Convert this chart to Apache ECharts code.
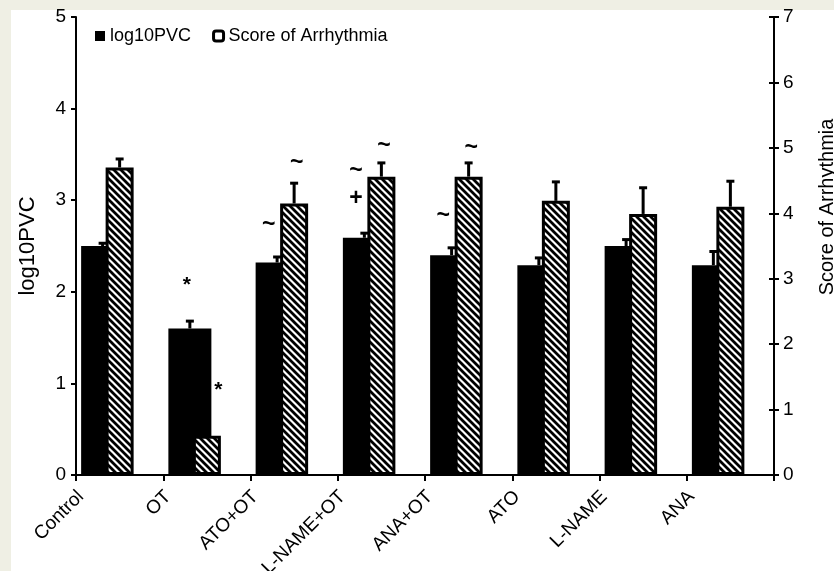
<!DOCTYPE html>
<html><head><meta charset="utf-8">
<script src="https://cdn.jsdelivr.net/npm/echarts@6/dist/echarts.min.js"></script>
<style>html,body{margin:0;padding:0;background:#EFEFE4}#c{width:834px;height:571px}</style>
</head><body><div id="c"></div>
<script>
const categories = ['Control', 'OT', 'ATO+OT', 'L-NAME+OT', 'ANA+OT', 'ATO', 'L-NAME', 'ANA'];
const log10PVC    = [2.50, 1.60, 2.32, 2.59, 2.40, 2.29, 2.50, 2.29];
const log10PVCErr = [0.03, 0.08, 0.06, 0.05, 0.08, 0.08, 0.07, 0.15];
const scoreArr    = [4.70, 0.60, 4.15, 4.56, 4.56, 4.19, 3.99, 4.10];
const scoreErr    = [0.13, 0.20, 0.31, 0.21, 0.21, 0.29, 0.40, 0.39];
// significance marks: [category index, height in axis units, symbol]
const leftMarks  = [[1, 2.07, '*'], [2, 2.73, '~'], [3, 3.32, '~'], [3, 3.02, '+'], [4, 2.83, '~']];
const rightMarks = [[1, 1.30, '*'], [2, 4.78, '~'], [3, 5.04, '~'], [4, 5.01, '~']];

const FONT = '"Liberation Sans", Arial, sans-serif';
const BLACK_OFF = -0.195, HATCH_OFF = 0.0;

function hatchPattern() {
  const s = 7, c = document.createElement('canvas');
  c.width = s; c.height = s;
  const g = c.getContext('2d');
  g.fillStyle = '#fff'; g.fillRect(0, 0, s, s);
  g.strokeStyle = '#000'; g.lineWidth = 2.8;
  g.beginPath();
  for (let k = -1; k <= 1; k++) { g.moveTo(-s, -s + k * s); g.lineTo(2 * s, 2 * s + k * s); }
  g.stroke();
  return c;
}

function errRender(off, lw, capW) {
  return function (params, api) {
    const i = api.value(0), v = api.value(1), e = api.value(2);
    const bw = api.size([1, 0])[0];
    const p0 = api.coord([i, v]), p1 = api.coord([i, v + e]);
    const x = p0[0] + off * bw;
    return { type: 'group', children: [
      { type: 'line', shape: { x1: x, y1: p0[1], x2: x, y2: p1[1] }, style: { stroke: '#000', lineWidth: lw } },
      { type: 'line', shape: { x1: x - capW / 2, y1: p1[1], x2: x + capW / 2, y2: p1[1] }, style: { stroke: '#000', lineWidth: lw } }
    ]};
  };
}
function markRender(list, off, starOff) {
  return function (params, api) {
    const i = api.value(0), v = api.value(1);
    const bw = api.size([1, 0])[0];
    const p = api.coord([i, v]);
    const t = list[params.dataIndex][2];
    const o = t === '*' ? starOff : off;
    return { type: 'text', x: p[0] + o * bw, y: p[1],
      style: { text: t, fill: '#000', font: 'bold ' + (t === '*' ? 21 : 23) + 'px ' + FONT,
               align: 'center', verticalAlign: 'middle' } };
  };
}

const chart = echarts.init(document.getElementById('c'));
const axisStyle = { lineStyle: { color: '#000', width: 2 } };
chart.setOption({
  backgroundColor: '#EFEFE4',
  animation: false,
  graphic: [
    { type: 'rect', z: -100, shape: { x: 11, y: 10, width: 823, height: 561 }, style: { fill: '#fff' } },
    { type: 'text', x: 827, y: 207, rotation: Math.PI / 2,
      style: { text: 'Score of Arrhythmia', font: '20px ' + FONT, fill: '#000', align: 'center', verticalAlign: 'middle' } }
  ],
  grid: { left: 76, right: 60, top: 17, bottom: 96, containLabel: false, outerBoundsMode: 'none' },
  legend: {
    left: 90, top: 22, itemWidth: 10, itemHeight: 10, itemGap: 21, selectedMode: false,
    textStyle: { fontSize: 18, fontFamily: FONT, color: '#000' },
    data: [
      { name: 'log10PVC', icon: 'rect', itemStyle: { color: '#000', borderWidth: 0 } },
      { name: 'Score of Arrhythmia', icon: 'roundRect', itemStyle: { color: '#fff', borderColor: '#000', borderWidth: 3 } }
    ]
  },
  xAxis: [
    { type: 'category', data: categories, boundaryGap: true,
      axisLine: axisStyle, axisTick: { show: true, length: 6, lineStyle: { color: '#000', width: 2 } },
      axisLabel: { interval: 0, rotate: 45, margin: -20, padding: [0, 55, 0, 0], fontSize: 19, fontFamily: FONT, color: '#000' },
      splitLine: { show: false } },
    { type: 'category', data: categories, boundaryGap: true, show: false }
  ],
  yAxis: [
    { type: 'value', min: 0, max: 5, interval: 1, position: 'left',
      name: 'log10PVC', nameLocation: 'middle', nameGap: 37,
      nameTextStyle: { fontSize: 22, fontFamily: FONT, color: '#000' },
      axisLine: { show: true, lineStyle: { color: '#000', width: 2 } },
      axisTick: { show: true, length: 5, lineStyle: { color: '#000', width: 2 } },
      axisLabel: { margin: 10, fontSize: 19, fontFamily: FONT, color: '#000' },
      splitLine: { show: false } },
    { type: 'value', min: 0, max: 7, interval: 1, position: 'right',
      axisLine: { show: true, lineStyle: { color: '#000', width: 2 } },
      axisTick: { show: true, length: 5, lineStyle: { color: '#000', width: 2 } },
      axisLabel: { margin: 9, fontSize: 19, fontFamily: FONT, color: '#000' },
      splitLine: { show: false } },
    { type: 'value', min: 0, max: 7, interval: 1, position: 'right',
      axisLine: { show: false }, axisLabel: { show: false },
      axisTick: { show: true, inside: true, length: 5, lineStyle: { color: '#000', width: 2 } },
      splitLine: { show: false } }
  ],
  series: [
    { name: 'log10PVC', type: 'bar', xAxisIndex: 0, yAxisIndex: 0, z: 2,
      barWidth: 43, barGap: 0, data: log10PVC, itemStyle: { color: '#000' } },
    { name: '_spacer', type: 'bar', xAxisIndex: 0, yAxisIndex: 0, barWidth: 34, barGap: 0, data: [], silent: true },
    { name: 'log10PVC err', type: 'custom', xAxisIndex: 0, yAxisIndex: 0, z: 3,
      renderItem: errRender(BLACK_OFF, 3, 8),
      data: categories.map((c, i) => [i, log10PVC[i], log10PVCErr[i]]) },
    { name: 'Score of Arrhythmia', type: 'bar', xAxisIndex: 1, yAxisIndex: 1, z: 4,
      barWidth: 28, data: scoreArr,
      itemStyle: { color: { image: hatchPattern(), repeat: 'repeat' }, borderColor: '#000', borderWidth: 3 } },
    { name: 'Score err', type: 'custom', xAxisIndex: 1, yAxisIndex: 1, z: 5,
      renderItem: errRender(HATCH_OFF, 3, 8),
      data: categories.map((c, i) => [i, scoreArr[i], scoreErr[i]]) },
    { name: 'marks L', type: 'custom', xAxisIndex: 0, yAxisIndex: 0, z: 6,
      renderItem: markRender(leftMarks, -0.29, -0.23), data: leftMarks.map(m => [m[0], m[1]]) },
    { name: 'marks R', type: 'custom', xAxisIndex: 1, yAxisIndex: 1, z: 6,
      renderItem: markRender(rightMarks, 0.03, 0.13), data: rightMarks.map(m => [m[0], m[1]]) }
  ]
});
</script></body></html>
